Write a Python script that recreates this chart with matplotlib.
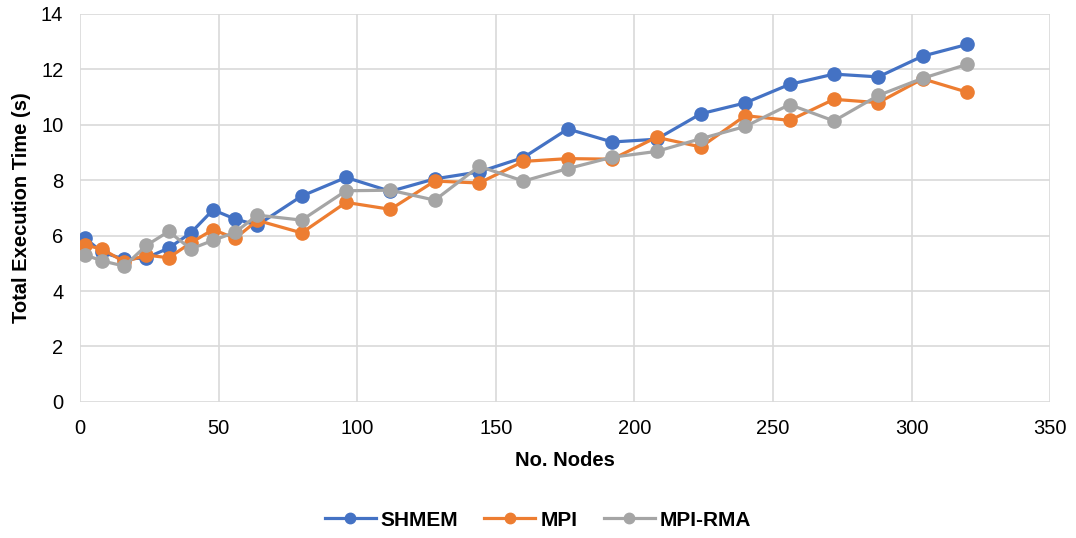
import numpy as np
import matplotlib.pyplot as plt

plt.rcParams['font.family'] = ['Liberation Sans', 'DejaVu Sans']

# Number of nodes
nodes = np.array([2, 8, 16, 24, 32, 40, 48, 56, 64, 80, 96, 112, 128, 144, 160,
                  176, 192, 208, 224, 240, 256, 272, 288, 304, 320])

# Total execution time (s)
shmem = np.array([5.9, 5.4, 5.15, 5.2, 5.55, 6.1, 6.93, 6.6, 6.38, 7.43, 8.1, 7.6, 8.05, 8.3, 8.82,
                  9.85, 9.38, 9.48, 10.4, 10.79, 11.46, 11.83, 11.73, 12.48, 12.9])
mpi = np.array([5.65, 5.52, 5.05, 5.3, 5.2, 5.74, 6.22, 5.9, 6.55, 6.1, 7.2, 6.95, 7.97, 7.9, 8.68,
                8.78, 8.76, 9.55, 9.2, 10.33, 10.16, 10.92, 10.8, 11.66, 11.18])
mpi_rma = np.array([5.3, 5.09, 4.9, 5.65, 6.15, 5.52, 5.83, 6.12, 6.74, 6.56, 7.62, 7.64, 7.28, 8.5, 7.97,
                    8.42, 8.83, 9.04, 9.5, 9.94, 10.73, 10.14, 11.06, 11.68, 12.18])

fig, ax = plt.subplots(figsize=(10.76, 5.38), dpi=100)
fig.subplots_adjust(left=0.0743, right=0.976, top=0.974, bottom=0.253)

style = dict(marker='o', markersize=9.5, linewidth=2.3)
ax.plot(nodes, shmem, color='#4472C4', label='SHMEM', **style)
ax.plot(nodes, mpi, color='#ED7D31', label='MPI', **style)
ax.plot(nodes, mpi_rma, color='#A5A5A5', label='MPI-RMA', **style)

ax.set_xlim(0, 350)
ax.set_ylim(0, 14)
ax.set_xticks(np.arange(0, 351, 50))
ax.set_yticks(np.arange(0, 15, 2))
ax.grid(True, color='#D9D9D9', linewidth=1.2)
ax.set_axisbelow(True)
for s in ax.spines.values():
    s.set_visible(False)
ax.tick_params(length=0, labelsize=14.5, labelcolor='black')
ax.tick_params(axis='x', pad=12)
ax.tick_params(axis='y', pad=12)

ax.set_xlabel('No. Nodes', fontsize=14.5, fontweight='bold', labelpad=10)
ax.set_ylabel('Total Execution Time (s)', fontsize=14.5, fontweight='bold', labelpad=7)

leg = fig.legend(loc='center', bbox_to_anchor=(0.5, 0.033), ncol=3, frameon=False,
                 prop={'size': 15, 'weight': 'bold'}, handlelength=2.45, columnspacing=1.25,
                 handletextpad=0.25)
for h in leg.legend_handles:
    h.set_markersize(7.5)

fig.savefig('out.png', dpi=100)
